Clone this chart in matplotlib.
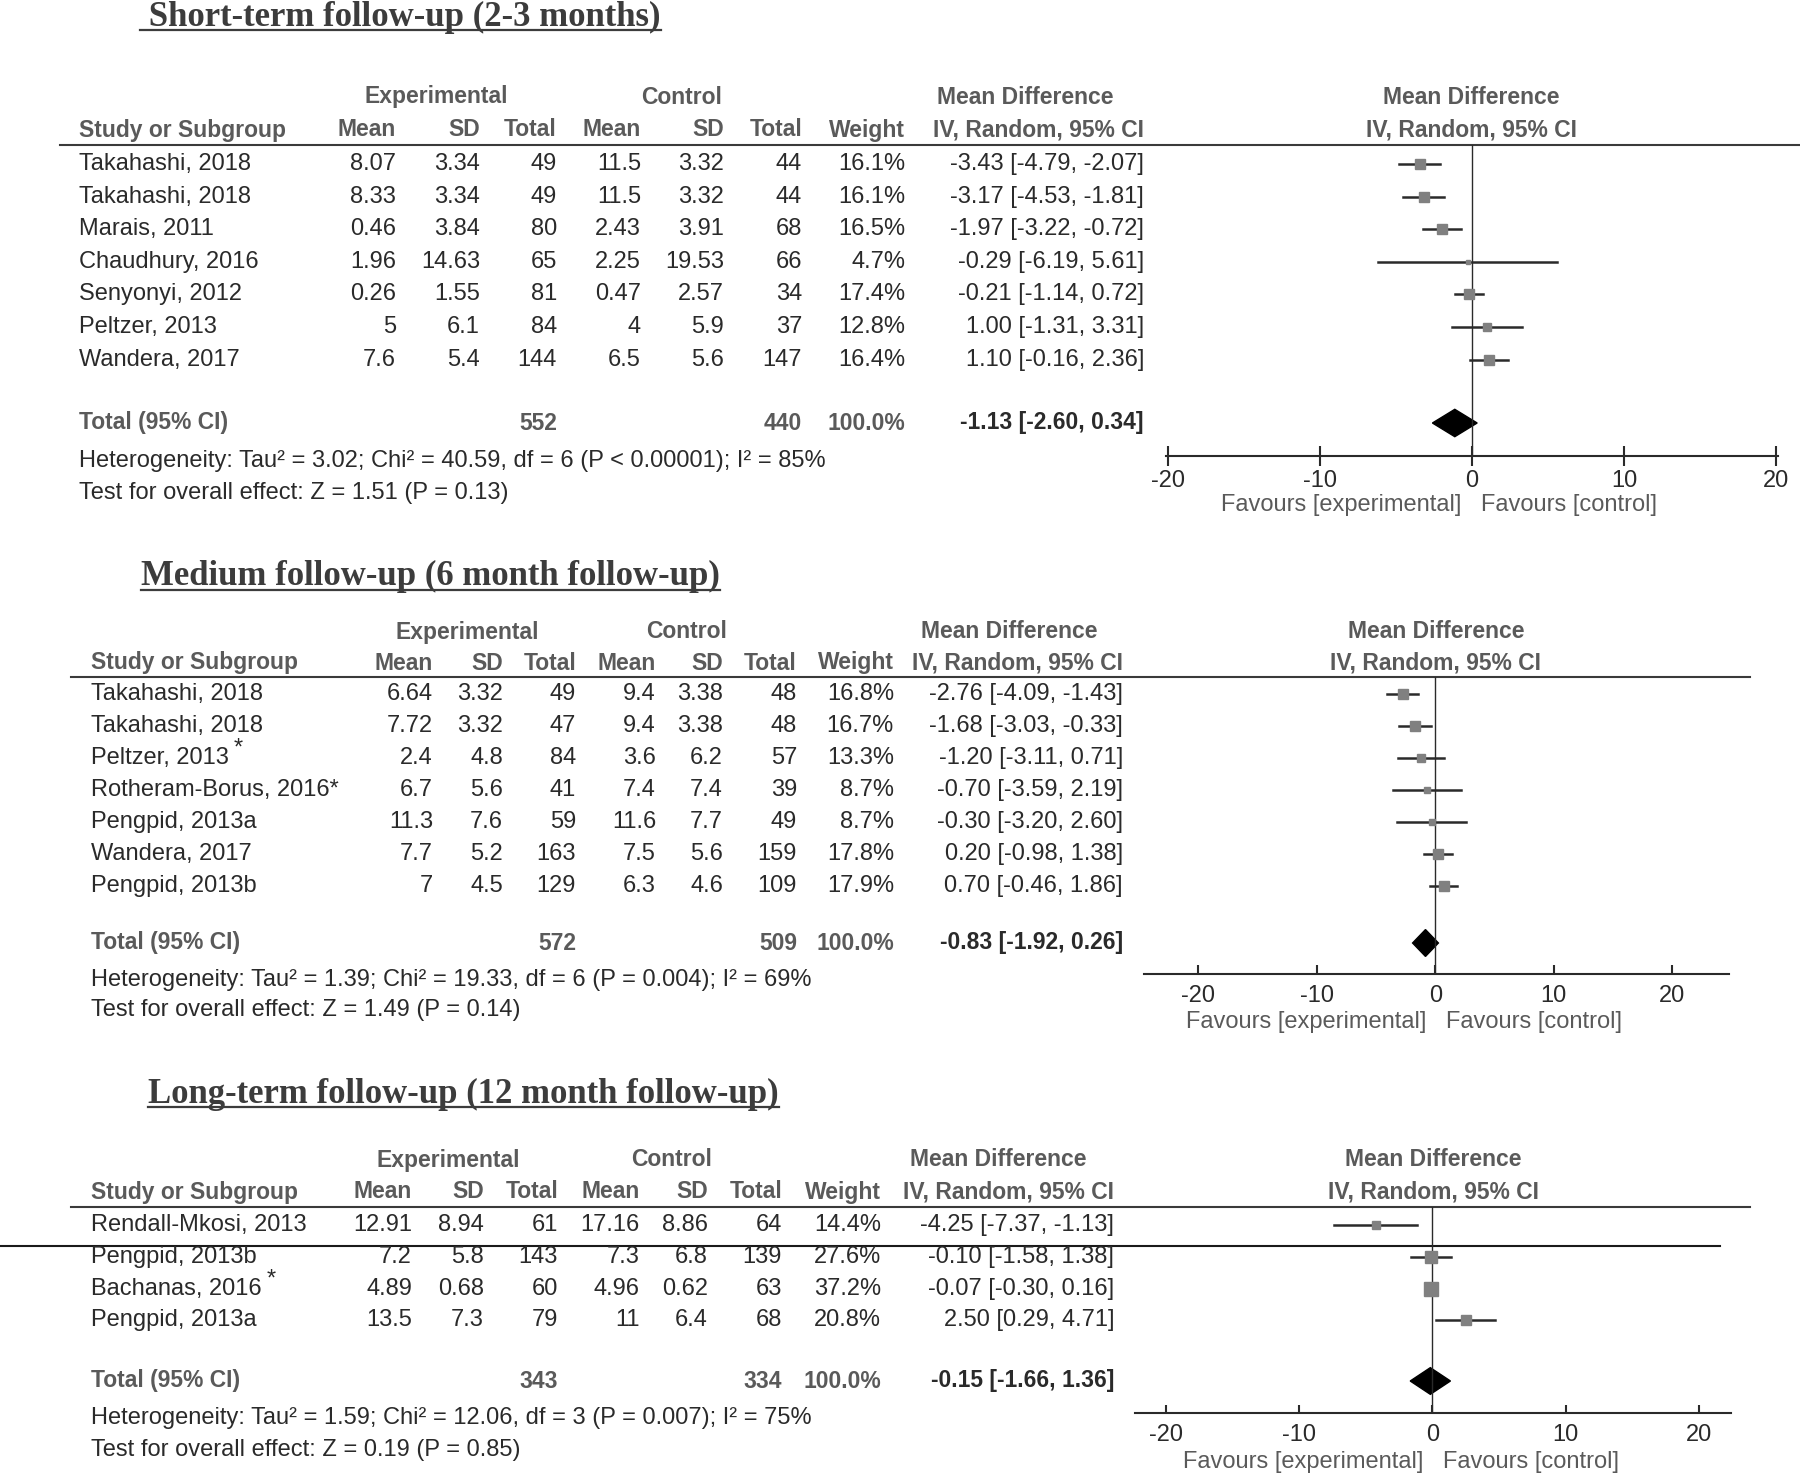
import matplotlib.pyplot as plt
import numpy as np

plt.rcParams['font.family'] = ['Liberation Sans', 'DejaVu Sans']
plt.rcParams['axes.unicode_minus'] = False

W, H = 1800, 1477

#---------------------------- data: short-term ----------------------------
study_s = ["Takahashi, 2018", "Takahashi, 2018", "Marais, 2011", "Chaudhury, 2016",
           "Senyonyi, 2012", "Peltzer, 2013", "Wandera, 2017"]
sup_s = [False] * 7
emean_s = [8.07, 8.33, 0.46, 1.96, 0.26, 5, 7.6]
esd_s = [3.34, 3.34, 3.84, 14.63, 1.55, 6.1, 5.4]
en_s = [49, 49, 80, 65, 81, 84, 144]
cmean_s = [11.5, 11.5, 2.43, 2.25, 0.47, 4, 6.5]
csd_s = [3.32, 3.32, 3.91, 19.53, 2.57, 5.9, 5.6]
cn_s = [44, 44, 68, 66, 34, 37, 147]
weight_s = [16.1, 16.1, 16.5, 4.7, 17.4, 12.8, 16.4]
md_s = [-3.43, -3.17, -1.97, -0.29, -0.21, 1.00, 1.10]
lo_s = [-4.79, -4.53, -3.22, -6.19, -1.14, -1.31, -0.16]
hi_s = [-2.07, -1.81, -0.72, 5.61, 0.72, 3.31, 2.36]
total_s = [552, 440, -1.13, -2.60, 0.34]
het_s = "Heterogeneity: Tau\u00b2 = 3.02; Chi\u00b2 = 40.59, df = 6 (P < 0.00001); I\u00b2 = 85%"
test_s = "Test for overall effect: Z = 1.51 (P = 0.13)"

#---------------------------- data: medium ----------------------------
study_m = ["Takahashi, 2018", "Takahashi, 2018", "Peltzer, 2013", "Rotheram-Borus, 2016*",
           "Pengpid, 2013a", "Wandera, 2017", "Pengpid, 2013b"]
sup_m = [False, False, True, False, False, False, False]
emean_m = [6.64, 7.72, 2.4, 6.7, 11.3, 7.7, 7]
esd_m = [3.32, 3.32, 4.8, 5.6, 7.6, 5.2, 4.5]
en_m = [49, 47, 84, 41, 59, 163, 129]
cmean_m = [9.4, 9.4, 3.6, 7.4, 11.6, 7.5, 6.3]
csd_m = [3.38, 3.38, 6.2, 7.4, 7.7, 5.6, 4.6]
cn_m = [48, 48, 57, 39, 49, 159, 109]
weight_m = [16.8, 16.7, 13.3, 8.7, 8.7, 17.8, 17.9]
md_m = [-2.76, -1.68, -1.20, -0.70, -0.30, 0.20, 0.70]
lo_m = [-4.09, -3.03, -3.11, -3.59, -3.20, -0.98, -0.46]
hi_m = [-1.43, -0.33, 0.71, 2.19, 2.60, 1.38, 1.86]
total_m = [572, 509, -0.83, -1.92, 0.26]
het_m = "Heterogeneity: Tau\u00b2 = 1.39; Chi\u00b2 = 19.33, df = 6 (P = 0.004); I\u00b2 = 69%"
test_m = "Test for overall effect: Z = 1.49 (P = 0.14)"

#---------------------------- data: long-term ----------------------------
study_l = ["Rendall-Mkosi, 2013", "Pengpid, 2013b", "Bachanas, 2016", "Pengpid, 2013a"]
sup_l = [False, False, True, False]
emean_l = [12.91, 7.2, 4.89, 13.5]
esd_l = [8.94, 5.8, 0.68, 7.3]
en_l = [61, 143, 60, 79]
cmean_l = [17.16, 7.3, 4.96, 11]
csd_l = [8.86, 6.8, 0.62, 6.4]
cn_l = [64, 139, 63, 68]
weight_l = [14.4, 27.6, 37.2, 20.8]
md_l = [-4.25, -0.10, -0.07, 2.50]
lo_l = [-7.37, -1.58, -0.30, 0.29]
hi_l = [-1.13, 1.38, 0.16, 4.71]
total_l = [343, 334, -0.15, -1.66, 1.36]
het_l = "Heterogeneity: Tau\u00b2 = 1.59; Chi\u00b2 = 12.06, df = 3 (P = 0.007); I\u00b2 = 75%"
test_l = "Test for overall effect: Z = 0.19 (P = 0.85)"

ticks = [-20, -10, 0, 10, 20]
tick_labels = ["-20", "-10", "0", "10", "20"]

#---------------------------- layout (pixels) ----------------------------
panels = [
    dict(title=" Short-term follow-up (2-3 months)", tx=140, ty=17, uy=30,
         study=study_s, sup=sup_s, em=emean_s, esd=esd_s, en=en_s, cm=cmean_s, csd=csd_s, cn=cn_s,
         w=weight_s, md=md_s, lo=lo_s, hi=hi_s, tot=total_s, het=het_s, test=test_s,
         cols=[79, 396, 480, 557, 641, 724, 802, 905, 1144], exp_c=436, ctl_c=682, mdh_c=1025,
         h1=97, h2=130, hl=145, hl_x=(60, 1800), r0=164, dy=32.6, tot_y=423, het_y=461, test_y=493,
         ax_x=(1166, 1778), xlim=(-20.1, 20.1), ax_y=456, zero=1471, fav_y=505,
         tdir='inout', tlen=14, tpad=3),
    dict(title="Medium follow-up (6 month follow-up)", tx=141, ty=576, uy=590,
         study=study_m, sup=sup_m, em=emean_m, esd=esd_m, en=en_m, cm=cmean_m, csd=csd_m, cn=cn_m,
         w=weight_m, md=md_m, lo=lo_m, hi=hi_m, tot=total_m, het=het_m, test=test_m,
         cols=[91, 433, 503, 576, 656, 723, 797, 894, 1123], exp_c=467, ctl_c=687, mdh_c=1009,
         h1=632, h2=663, hl=677, hl_x=(71, 1750), r0=694, dy=32.0, tot_y=943, het_y=980, test_y=1010,
         ax_x=(1144, 1729), xlim=(-24.6, 24.8), ax_y=974, zero=1436, fav_y=1022,
         tdir='in', tlen=6.5, tpad=8),
    dict(title="Long-term follow-up (12 month follow-up)", tx=148, ty=1094, uy=1107,
         study=study_l, sup=sup_l, em=emean_l, esd=esd_l, en=en_l, cm=cmean_l, csd=csd_l, cn=cn_l,
         w=weight_l, md=md_l, lo=lo_l, hi=hi_l, tot=total_l, het=het_l, test=test_l,
         cols=[91, 412, 484, 558, 640, 708, 782, 881, 1114], exp_c=448, ctl_c=672, mdh_c=998,
         h1=1160, h2=1192, hl=1207, hl_x=(71, 1750), r0=1225, dy=31.8, tot_y=1381, het_y=1418, test_y=1450,
         ax_x=(1135, 1731), xlim=(-22.3, 22.4), ax_y=1413, zero=1433, fav_y=1462,
         tdir='in', tlen=6, tpad=8),
]

HEAD = '#5a5a5a'
DATA = '#2a2a2a'
FS = 17
HFS = 16.5


def fmt(v):
    return f"{v:g}"


fig = plt.figure(figsize=(W / 100, H / 100), dpi=100)
bg = fig.add_axes([0, 0, 1, 1])
bg.set_xlim(0, W)
bg.set_ylim(H, 0)
bg.axis('off')
renderer = fig.canvas.get_renderer()

for p in panels:
    # titulo sublinhado
    t = bg.text(p['tx'], p['ty'], p['title'], family='Liberation Serif', weight='bold',
                fontsize=25, color='#3c3c3c', ha='left', va='center')
    bb = t.get_window_extent(renderer)
    bg.plot([bb.x0, bb.x1], [p['uy'], p['uy']], color='#3c3c3c', lw=1.6)

    c = p['cols']
    hk = dict(fontsize=HFS, color=HEAD, weight='bold', va='center')
    # cabecalho
    bg.text(p['exp_c'], p['h1'], "Experimental", ha='center', **hk)
    bg.text(p['ctl_c'], p['h1'], "Control", ha='center', **hk)
    bg.text(p['mdh_c'], p['h1'], "Mean Difference", ha='center', **hk)
    bg.text(p['zero'], p['h1'], "Mean Difference", ha='center', **hk)
    bg.text(c[0], p['h2'], "Study or Subgroup", ha='left', **hk)
    for x, lab in zip(c[1:8], ["Mean", "SD", "Total", "Mean", "SD", "Total", "Weight"]):
        bg.text(x, p['h2'], lab, ha='right', **hk)
    bg.text(c[8], p['h2'], "IV, Random, 95% CI", ha='right', **hk)
    bg.text(p['zero'], p['h2'], "IV, Random, 95% CI", ha='center', **hk)
    bg.plot(p['hl_x'], [p['hl'], p['hl']], color='#3a3a3a', lw=1.5)

    # linhas da tabela
    n = len(p['study'])
    for i in range(n):
        y = p['r0'] + p['dy'] * i
        t = bg.text(c[0], y, p['study'][i], fontsize=FS, color=DATA, ha='left', va='center')
        if p['sup'][i]:
            bb = t.get_window_extent(renderer)
            bg.text(bb.x1 + 5, y - 9, "*", fontsize=17, color=DATA, ha='left', va='center')
        vals = [fmt(p['em'][i]), fmt(p['esd'][i]), str(p['en'][i]),
                fmt(p['cm'][i]), fmt(p['csd'][i]), str(p['cn'][i]),
                f"{p['w'][i]:.1f}%",
                f"{p['md'][i]:.2f} [{p['lo'][i]:.2f}, {p['hi'][i]:.2f}]"]
        for x, v in zip(c[1:], vals):
            bg.text(x, y, v, fontsize=FS, color=DATA, ha='right', va='center')

    # total
    ty = p['tot_y']
    tot = p['tot']
    bg.text(c[0], ty, "Total (95% CI)", ha='left', **hk)
    bg.text(c[3], ty, str(tot[0]), ha='right', **hk)
    bg.text(c[6], ty, str(tot[1]), ha='right', **hk)
    bg.text(c[7], ty, "100.0%", ha='right', **hk)
    bg.text(c[8], ty, f"{tot[2]:.2f} [{tot[3]:.2f}, {tot[4]:.2f}]", fontsize=HFS, color=DATA,
            weight='bold', ha='right', va='center')
    bg.text(c[0], p['het_y'], p['het'], fontsize=FS, color=DATA, ha='left', va='center')
    bg.text(c[0], p['test_y'], p['test'], fontsize=FS, color=DATA, ha='left', va='center')

    # forest plot
    x0, x1 = p['ax_x']
    fp = fig.add_axes([x0 / W, 1 - p['ax_y'] / H, (x1 - x0) / W, (p['ax_y'] - p['hl']) / H])
    fp.patch.set_alpha(0)
    fp.set_xlim(*p['xlim'])
    ytop = (p['hl'] - p['r0']) / p['dy']
    ybot = (p['ax_y'] - p['r0']) / p['dy']
    fp.set_ylim(ybot, ytop)
    for s in ['top', 'left', 'right']:
        fp.spines[s].set_visible(False)
    fp.spines['bottom'].set_linewidth(1.5)
    fp.spines['bottom'].set_color('#2a2a2a')
    fp.set_yticks([])
    fp.set_xticks(ticks)
    fp.set_xticklabels(tick_labels)
    fp.tick_params(axis='x', direction=p['tdir'], length=p['tlen'], width=1.5, color='#2a2a2a',
                   labelsize=FS, labelcolor=DATA, pad=p['tpad'])
    fp.axvline(0, color='#2a2a2a', lw=1.0)
    rows = np.arange(n)
    for i in rows:
        fp.plot([p['lo'][i], p['hi'][i]], [i, i], color='#2a2a2a', lw=1.8, clip_on=False)
        fp.plot(p['md'][i], i, marker='s', ms=6.5 * np.sqrt(p['w'][i] / 16.0), color='#808080',
                mec='#808080', clip_on=False)
    trow = (ty - p['r0']) / p['dy']
    dh = 0.42
    fp.fill([tot[3], tot[2], tot[4], tot[2]], [trow, trow - dh, trow, trow + dh], color='black',
            clip_on=False)

    bg.text(p['zero'] - 10, p['fav_y'], "Favours [experimental]", fontsize=FS, color=HEAD,
            ha='right', va='center')
    bg.text(p['zero'] + 10, p['fav_y'], "Favours [control]", fontsize=FS, color=HEAD,
            ha='left', va='center')

# linha solta no terceiro painel
bg.plot([0, 1720], [1246, 1246], color='#1a1a1a', lw=1.5)

fig.savefig('out.png', dpi=100)
